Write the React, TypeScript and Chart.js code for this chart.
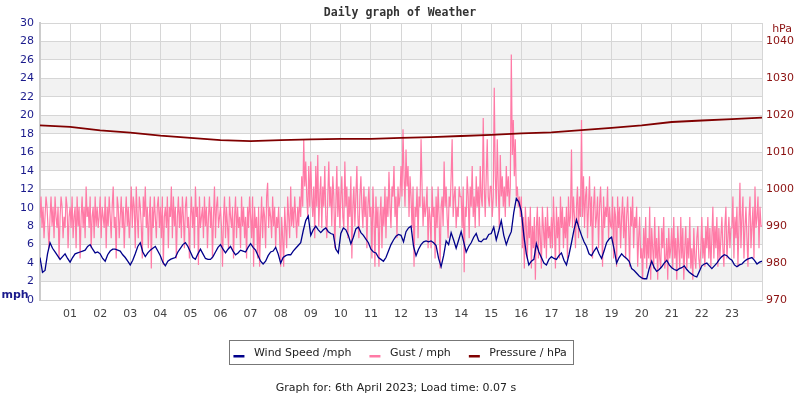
import { useEffect, useRef } from 'react';
import { Chart, registerables } from 'chart.js';

Chart.register(...registerables);

// ---- Data ----
const hourLabels = ['01','02','03','04','05','06','07','08','09','10','11','12','13','14','15','16','17','18','19','20','21','22','23'];

// Pressure (hPa), hourly from 00:00 to 24:00
const pressureHpa = [
  1017.3, 1016.9, 1015.9, 1015.3, 1014.5, 1013.9, 1013.3, 1013.0, 1013.3, 1013.5,
  1013.6, 1013.6, 1013.9, 1014.1, 1014.4, 1014.7, 1015.1, 1015.4, 1016.0, 1016.6,
  1017.3, 1018.2, 1018.6, 1019.0, 1019.4,
];

// Wind speed (mph), every 5 minutes
const windMph = [
  4.6, 3.0, 3.2, 5.0, 6.2, 5.6, 5.2, 4.8, 4.4, 4.7, 5.0, 4.5,
  4.1, 4.6, 5.0, 5.1, 5.2, 5.3, 5.4, 5.8, 6.0, 5.5, 5.1, 5.2,
  5.0, 4.5, 4.2, 4.9, 5.3, 5.5, 5.5, 5.4, 5.3, 4.9, 4.6, 4.2,
  3.8, 4.3, 5.0, 5.8, 6.2, 5.2, 4.7, 5.1, 5.4, 5.6, 5.8, 5.3,
  4.8, 4.1, 3.7, 4.2, 4.4, 4.5, 4.6, 5.2, 5.6, 6.0, 6.2, 5.8,
  5.2, 4.6, 4.4, 5.0, 5.5, 5.0, 4.5, 4.4, 4.4, 4.7, 5.2, 5.7,
  6.0, 5.5, 5.1, 5.5, 5.8, 5.3, 4.9, 5.1, 5.4, 5.3, 5.2, 5.7,
  6.1, 5.7, 5.4, 4.8, 4.2, 3.9, 4.2, 4.8, 5.2, 5.3, 5.7, 5.0,
  4.0, 4.6, 4.8, 4.9, 4.9, 5.3, 5.6, 5.9, 6.2, 7.5, 8.6, 9.1,
  7.0, 7.6, 8.0, 7.6, 7.3, 7.6, 7.8, 7.4, 7.2, 7.1, 5.5, 5.1,
  7.2, 7.8, 7.6, 7.0, 6.1, 6.8, 7.7, 7.9, 7.3, 7.0, 6.6, 6.2,
  5.5, 5.2, 5.1, 4.6, 4.4, 4.2, 4.6, 5.3, 6.0, 6.5, 6.9, 7.1,
  7.0, 6.3, 7.4, 7.8, 8.0, 5.8, 4.8, 5.5, 6.0, 6.3, 6.4, 6.3,
  6.4, 6.2, 5.9, 4.5, 3.6, 4.8, 6.4, 6.0, 7.3, 6.5, 5.6, 6.5,
  7.4, 6.3, 5.2, 5.8, 6.2, 6.8, 7.2, 6.4, 6.3, 6.6, 6.6, 7.1,
  7.2, 7.9, 6.5, 7.5, 8.6, 7.0, 6.0, 6.8, 7.4, 9.5, 11.0, 10.6,
  9.6, 7.0, 5.0, 3.8, 4.2, 4.4, 6.1, 5.2, 4.6, 4.0, 3.8, 4.4,
  4.7, 4.5, 4.4, 4.8, 5.1, 4.3, 3.8, 4.9, 6.2, 7.6, 8.7, 7.8,
  7.0, 6.3, 5.8, 5.0, 4.8, 5.3, 5.7, 5.0, 4.5, 5.3, 6.2, 6.6,
  6.8, 5.5, 4.0, 4.6, 5.0, 4.7, 4.5, 4.2, 3.4, 3.2, 2.9, 2.6,
  2.4, 2.3, 2.3, 3.4, 4.2, 3.5, 3.1, 3.3, 3.6, 4.0, 4.3, 3.8,
  3.5, 3.3, 3.2, 3.4, 3.5, 3.7, 3.3, 3.0, 2.8, 2.6, 2.5, 3.1,
  3.7, 3.9, 4.0, 3.7, 3.4, 3.7, 4.0, 4.4, 4.7, 4.9, 4.8, 4.5,
  4.3, 3.8, 3.6, 3.8, 3.9, 4.2, 4.4, 4.5, 4.6, 4.3, 3.9, 4.1,
  4.2,
];

// Gust (mph), every 2 minutes
const gustMph = [
  8.9, 11.2, 7.8, 10.1, 6.7, 9.0, 11.2, 10.1, 7.8, 5.6, 9.0, 11.2, 8.0, 10.1, 6.7, 11.2, 9.0, 7.8, 10.1, 4.5, 8.9, 11.2, 10.1, 6.7, 9.0, 7.8, 11.2, 10.1, 5.6, 9.0,
  10.1, 7.8, 11.2, 6.7, 9.0, 10.1, 5.6, 11.2, 8.0, 10.1, 4.5, 9.0, 11.2, 7.8, 10.1, 6.7, 12.3, 9.0, 10.1, 7.8, 11.2, 5.6, 9.0, 10.1, 6.7, 11.2, 8.0, 10.1, 7.8, 9.0,
  11.2, 6.7, 10.1, 9.0, 7.8, 11.2, 5.6, 10.1, 8.0, 11.2, 9.0, 6.7, 10.1, 12.3, 7.8, 9.0, 4.5, 11.2, 10.1, 6.7, 9.0, 11.2, 7.8, 10.1, 5.6, 9.0, 11.2, 8.0, 10.1, 6.7,
  9.0, 12.3, 7.8, 11.2, 10.1, 5.6, 12.3, 9.0, 6.7, 11.2, 10.1, 8.0, 4.5, 11.2, 9.0, 12.3, 7.8, 10.1, 5.6, 9.0, 11.2, 3.4, 10.1, 7.8, 11.2, 9.0, 6.7, 10.1, 11.2, 7.8,
  10.1, 6.7, 11.2, 3.8, 9.0, 10.1, 7.8, 11.2, 5.6, 10.1, 9.0, 12.3, 6.7, 11.2, 8.0, 10.1, 4.5, 9.0, 11.2, 7.8, 10.1, 6.7, 11.2, 9.0, 5.6, 10.1, 11.2, 7.8, 9.0, 4.5,
  9.0, 11.2, 7.8, 10.1, 5.6, 12.3, 9.0, 10.1, 3.8, 11.2, 7.8, 9.0, 10.1, 6.7, 11.2, 8.0, 10.1, 5.6, 9.0, 11.2, 7.8, 10.1, 4.5, 9.0, 12.3, 6.7, 10.1, 11.2, 7.8, 9.0,
  10.1, 7.8, 3.6, 9.0, 11.2, 6.7, 10.1, 8.0, 5.6, 11.2, 9.0, 7.8, 10.1, 4.5, 9.0, 11.2, 6.7, 10.1, 7.8, 9.0, 5.6, 11.2, 8.0, 10.1, 6.7, 9.0, 4.5, 10.1, 7.8, 11.2,
  9.0, 6.7, 11.2, 3.6, 10.1, 7.8, 9.0, 4.5, 10.1, 3.6, 8.0, 11.2, 6.7, 10.1, 9.0, 5.6, 11.2, 12.7, 7.8, 10.1, 9.0, 6.7, 11.2, 8.0, 10.1, 5.6, 9.0, 7.8, 10.1, 6.7,
  3.6, 9.0, 6.7, 3.6, 10.1, 7.8, 5.6, 11.2, 9.0, 6.7, 12.3, 8.0, 10.1, 7.8, 11.2, 9.0, 6.7, 10.1, 8.0, 11.2, 9.0, 13.4, 10.1, 17.4, 12.3, 15.0, 11.2, 9.0, 14.5, 10.1,
  15.0, 11.2, 9.0, 12.3, 6.7, 14.5, 10.1, 15.7, 8.0, 11.2, 13.4, 7.8, 12.3, 10.1, 14.5, 9.0, 6.7, 11.2, 15.0, 10.1, 12.3, 8.0, 13.4, 11.2, 5.6, 10.1, 14.5, 9.0, 12.3, 7.8,
  11.2, 13.4, 9.0, 7.8, 15.0, 10.1, 12.3, 6.7, 11.2, 9.0, 13.4, 4.5, 10.1, 12.3, 8.0, 11.2, 14.5, 9.0, 6.7, 11.2, 13.4, 10.1, 7.8, 12.3, 9.0, 11.2, 5.6, 10.1, 12.3, 9.0,
  10.1, 4.5, 12.3, 9.0, 3.6, 11.2, 7.8, 10.1, 3.6, 9.0, 11.2, 5.6, 10.1, 8.0, 12.3, 6.7, 11.2, 9.0, 13.9, 10.1, 7.8, 12.3, 11.2, 14.5, 9.0, 11.2, 6.7, 12.3, 10.1, 11.2,
  14.5, 11.2, 18.5, 13.4, 10.1, 16.3, 12.3, 14.5, 9.0, 13.4, 11.2, 7.8, 12.3, 3.6, 10.1, 9.0, 12.3, 6.7, 11.2, 10.1, 17.4, 12.3, 8.0, 11.2, 9.0, 10.1, 12.3, 5.6, 10.1, 9.0,
  5.6, 12.3, 9.0, 10.1, 4.5, 11.2, 7.8, 12.3, 9.0, 3.4, 10.1, 11.2, 8.0, 15.0, 10.1, 12.3, 9.0, 6.7, 11.2, 10.1, 13.4, 17.4, 9.0, 11.2, 12.3, 7.8, 10.1, 9.0, 12.3, 11.2,
  11.2, 7.8, 12.3, 3.0, 10.1, 9.0, 13.4, 11.2, 6.7, 12.3, 10.1, 14.5, 9.0, 11.2, 7.8, 13.4, 10.1, 12.3, 8.0, 14.5, 11.2, 10.1, 19.7, 12.3, 9.0, 13.4, 17.4, 11.2, 10.1, 12.3,
  12.3, 9.0, 11.2, 23.0, 13.4, 10.1, 17.4, 12.3, 7.8, 15.7, 11.2, 13.4, 10.1, 12.3, 9.0, 14.5, 11.2, 13.4, 10.1, 12.3, 26.6, 15.7, 19.5, 13.4, 17.4, 11.2, 12.3, 10.1, 11.2, 9.0,
  11.2, 5.6, 9.0, 3.4, 10.1, 7.8, 4.5, 9.0, 6.7, 10.1, 3.4, 8.0, 5.6, 9.0, 2.2, 7.8, 10.1, 4.5, 9.0, 6.7, 3.4, 10.1, 7.8, 5.6, 9.0, 4.5, 10.1, 6.7, 8.0, 5.6,
  9.0, 5.6, 11.2, 7.8, 3.4, 10.1, 6.7, 9.0, 4.5, 11.2, 7.8, 10.1, 5.6, 9.0, 6.7, 10.1, 4.5, 11.2, 8.0, 9.0, 16.3, 7.8, 11.2, 9.0, 5.6, 10.1, 12.3, 6.7, 11.2, 9.0,
  19.5, 9.0, 13.4, 7.8, 11.2, 12.3, 6.7, 10.1, 13.4, 8.0, 11.2, 4.5, 10.1, 12.3, 7.8, 9.0, 11.2, 5.6, 10.1, 12.3, 9.0, 3.6, 11.2, 7.8, 10.1, 9.0, 12.3, 6.7, 10.1, 8.0,
  7.8, 11.2, 4.5, 10.1, 9.0, 3.6, 11.2, 7.8, 10.1, 5.6, 9.0, 11.2, 6.7, 10.1, 4.5, 9.0, 11.2, 7.8, 3.6, 10.1, 8.0, 11.2, 5.6, 9.0, 7.8, 10.1, 3.6, 6.7, 9.0, 4.5,
  5.6, 2.2, 7.8, 4.5, 9.0, 3.4, 6.7, 4.5, 10.1, 2.2, 7.8, 5.6, 3.4, 9.0, 4.5, 6.7, 2.2, 8.0, 4.5, 3.4, 7.8, 5.6, 9.0, 3.4, 4.5, 6.7, 2.2, 7.8, 4.5, 5.6,
  7.8, 3.4, 9.0, 4.5, 6.7, 2.2, 8.0, 5.6, 3.4, 9.0, 4.5, 7.8, 2.2, 5.6, 8.0, 3.4, 6.7, 4.5, 9.0, 3.4, 5.6, 2.2, 7.8, 4.5, 3.4, 6.7, 8.0, 4.5, 3.4, 5.6,
  9.0, 4.5, 6.7, 3.6, 8.0, 5.6, 9.0, 4.5, 7.8, 3.6, 6.7, 10.1, 4.5, 8.0, 5.6, 9.0, 3.6, 7.8, 4.5, 6.7, 9.0, 5.6, 3.6, 8.0, 10.1, 4.5, 6.7, 9.0, 5.6, 7.8,
  7.8, 11.2, 4.5, 9.0, 6.7, 10.1, 3.6, 8.0, 12.7, 5.6, 9.0, 11.2, 4.5, 7.8, 10.1, 6.7, 3.6, 9.0, 11.2, 5.6, 8.0, 10.1, 4.5, 12.3, 7.8, 9.0, 11.2, 5.6, 10.1, 8.0,
  8.0,
];

const TITLE = 'Daily graph of Weather';
const FOOTER = 'Graph for: 6th April 2023; Load time: 0.07 s';

const WIND_COLOR = '#00008b';
const GUST_COLOR = '#ff7aa6';
const PRESS_COLOR = '#800000';

const bandsPlugin = {
  id: 'bands',
  beforeDraw(chart: any) {
    const { ctx, chartArea, scales } = chart;
    const y = scales.y;
    ctx.save();
    ctx.fillStyle = '#f2f2f2';
    for (let v = 2; v < 30; v += 4) {
      const y1 = y.getPixelForValue(v);
      const y2 = y.getPixelForValue(v + 2);
      ctx.fillRect(chartArea.left, y2, chartArea.right - chartArea.left, y1 - y2);
    }
    ctx.restore();
  },
};

const textPlugin = {
  id: 'texts',
  afterDraw(chart: any) {
    const { ctx } = chart;
    ctx.save();
    // Title
    ctx.font = 'bold 11.5px "DejaVu Sans Mono"';
    ctx.fillStyle = '#333333';
    ctx.textAlign = 'center';
    ctx.textBaseline = 'middle';
    ctx.fillText(TITLE, 400, 13);

    // Axis unit labels
    ctx.font = '11px "DejaVu Sans"';
    ctx.fillStyle = '#8b1010';
    ctx.textAlign = 'right';
    ctx.fillText('hPa', 792, 29.5);
    ctx.font = 'bold 11px "DejaVu Sans"';
    ctx.fillStyle = '#1a1a8c';
    ctx.textAlign = 'left';
    ctx.fillText('mph', 1.5, 295);

    // Legend
    const items = chart.data.datasets.map((d: any) => ({ label: d.label, color: d.borderColor }));
    ctx.font = '11px "DejaVu Sans"';
    const markerW = 11;
    const gapText = 9.5;
    const gapItem = 18;
    const padL = 4.3;
    const padR = 6;
    let total = padL + padR;
    const widths = items.map((it: any) => ctx.measureText(it.label).width);
    items.forEach((_: any, i: number) => {
      total += markerW + gapText + widths[i];
      if (i < items.length - 1) total += gapItem;
    });
    const cx = 401;
    const boxL = cx - total / 2;
    const boxT = 340.5;
    const boxH = 24;
    ctx.strokeStyle = '#777777';
    ctx.lineWidth = 1;
    ctx.strokeRect(Math.round(boxL) + 0.5, boxT, Math.round(total), boxH);
    let x = boxL + padL;
    ctx.textAlign = 'left';
    ctx.textBaseline = 'middle';
    items.forEach((it: any, i: number) => {
      ctx.fillStyle = it.color;
      ctx.fillRect(x, 355, markerW, 2.5);
      x += markerW + gapText;
      ctx.fillStyle = '#222222';
      ctx.fillText(it.label, x, 353.5);
      x += widths[i] + gapItem;
    });

    // Footer
    ctx.fillStyle = '#222222';
    ctx.textAlign = 'center';
    ctx.fillText(FOOTER, 396, 388);
    ctx.restore();
  },
};

export default function App() {
  const ref = useRef<HTMLCanvasElement | null>(null);

  useEffect(() => {
    document.body.style.margin = '0';
    const canvas = ref.current;
    if (!canvas) return;

    const chart = new Chart(canvas, {
      type: 'line',
      data: {
        datasets: [
          {
            label: 'Wind Speed /mph',
            data: windMph.map((v, i) => ({ x: i / 12, y: v })),
            borderColor: WIND_COLOR,
            backgroundColor: WIND_COLOR,
            borderWidth: 1.3,
            pointRadius: 0,
            tension: 0,
            yAxisID: 'y',
            order: 1,
          },
          {
            label: 'Gust / mph',
            data: gustMph.map((v, i) => ({ x: i / 30, y: v })),
            borderColor: GUST_COLOR,
            backgroundColor: GUST_COLOR,
            borderWidth: 1.2,
            pointRadius: 0,
            tension: 0,
            yAxisID: 'y',
            order: 2,
          },
          {
            label: 'Pressure / hPa',
            data: pressureHpa.map((v, i) => ({ x: i, y: v })),
            borderColor: PRESS_COLOR,
            backgroundColor: PRESS_COLOR,
            borderWidth: 1.8,
            pointRadius: 0,
            tension: 0,
            yAxisID: 'y1',
            order: 0,
          },
        ],
      },
      options: {
        responsive: false,
        animation: false,
        devicePixelRatio: 1,
        layout: { padding: { top: 23, left: 0, right: 0, bottom: 0 } },
        plugins: {
          legend: { display: false },
          title: { display: false },
          tooltip: { enabled: false },
        },
        scales: {
          x: {
            type: 'linear',
            min: 0,
            max: 24,
            afterFit: (s: any) => { s.height = 100; },
            ticks: {
              stepSize: 1,
              autoSkip: false,
              maxRotation: 0,
              padding: 8,
              color: '#444444',
              font: { family: '"DejaVu Sans"', size: 11 },
              callback: (v: any) => {
                const n = Number(v);
                return n >= 1 && n <= 23 ? hourLabels[n - 1] : '';
              },
            },
            grid: { color: '#d6d6d6', lineWidth: 1, drawTicks: false },
            border: { color: '#cfcfcf', width: 1 },
          },
          y: {
            type: 'linear',
            position: 'left',
            min: 0,
            max: 30,
            afterFit: (s: any) => { s.width = 40; },
            ticks: {
              stepSize: 2,
              padding: 6,
              color: '#1a1a8c',
              font: { family: '"DejaVu Sans"', size: 11 },
            },
            grid: { color: '#d6d6d6', lineWidth: 1, drawTicks: false },
            border: { color: '#cccccc', width: 2 },
          },
          y1: {
            type: 'linear',
            position: 'right',
            min: 970,
            max: 1045,
            afterFit: (s: any) => { s.width = 38; },
            ticks: {
              stepSize: 10,
              includeBounds: false,
              padding: 4,
              color: '#8b1010',
              font: { family: '"DejaVu Sans"', size: 11 },
              callback: (v: any) => String(v),
            },
            grid: { display: false, drawTicks: false },
            border: { color: '#d6d6d6', width: 1 },
          },
        },
      },
      plugins: [bandsPlugin, textPlugin],
    });

    return () => chart.destroy();
  }, []);

  return <canvas ref={ref} width={800} height={400} style={{ display: 'block' }} />;
}
